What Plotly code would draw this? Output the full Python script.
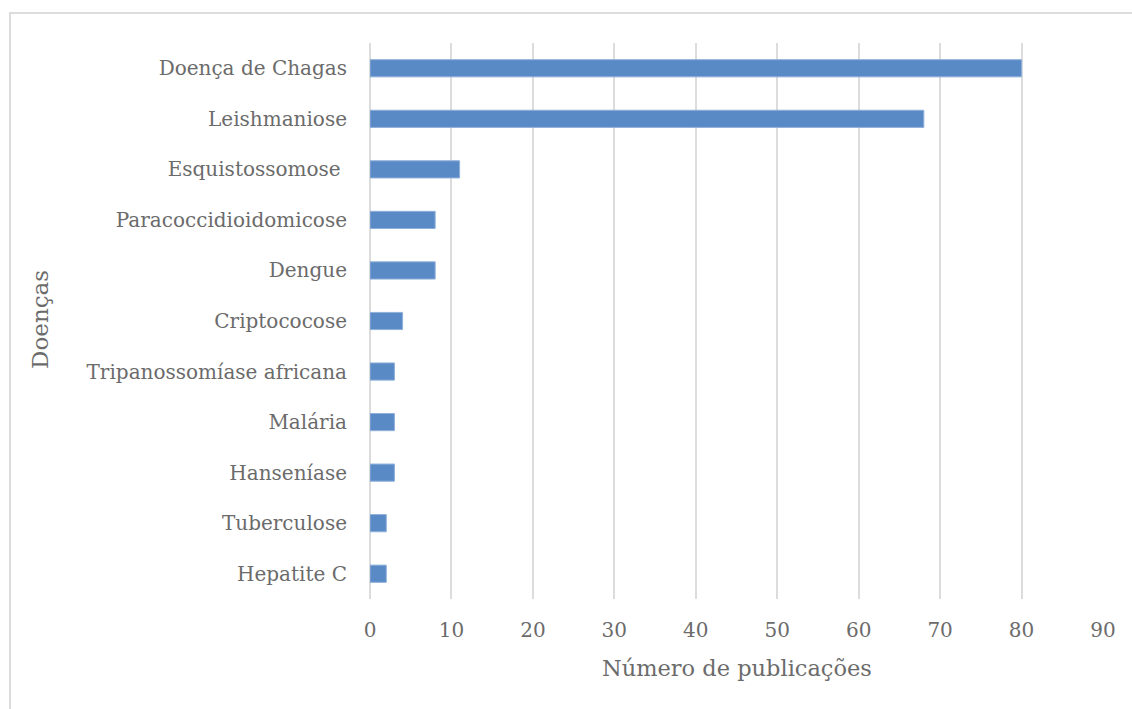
import plotly.graph_objects as go

# Diseases and number of publications found for each one
doencas = [
    "Doença de Chagas",
    "Leishmaniose",
    "Esquistossomose ",
    "Paracoccidioidomicose",
    "Dengue",
    "Criptococose",
    "Tripanossomíase africana",
    "Malária",
    "Hanseníase",
    "Tuberculose",
    "Hepatite C",
]
publicacoes = [80, 68, 11, 8, 8, 4, 3, 3, 3, 2, 2]
x_ticks = [0, 10, 20, 30, 40, 50, 60, 70, 80, 90]

W, H = 1132, 709
L, R, T, B = 370, 29, 43, 110
plot_w = W - L - R
plot_h = H - T - B

FONT = "DejaVu Serif"
TXT = "#6b6b6b"
GRID = "#dcdcdc"

fig = go.Figure(
    go.Bar(
        x=publicacoes,
        y=doencas,
        orientation="h",
        width=0.34,
        marker=dict(color="#5a8ac6", line=dict(color="#8fb0da", width=1)),
        hoverinfo="x+y",
    )
)

fig.update_layout(
    width=W,
    height=H,
    margin=dict(l=L, r=R, t=T, b=B),
    paper_bgcolor="white",
    plot_bgcolor="white",
    showlegend=False,
    font=dict(family=FONT, color=TXT, size=20),
    xaxis=dict(
        range=[0, 90],
        tickvals=x_ticks,
        ticktext=[str(v) for v in x_ticks],
        showgrid=True,
        gridcolor=GRID,
        gridwidth=2,
        zeroline=True,
        zerolinecolor=GRID,
        zerolinewidth=2,
        showline=False,
        ticks="",
        ticklabelstandoff=17,
        tickfont=dict(family=FONT, color=TXT, size=20),
        fixedrange=True,
    ),
    yaxis=dict(
        categoryorder="array",
        categoryarray=doencas[::-1],
        autorange=False,
        range=[-0.5, len(doencas) - 0.5],
        showgrid=False,
        zeroline=False,
        showline=False,
        ticks="",
        ticklabelstandoff=22,
        tickfont=dict(family=FONT, color=TXT, size=20),
        fixedrange=True,
    ),
)

# Axis titles
fig.add_annotation(
    text="Número de publicações",
    xref="paper", yref="paper",
    x=0.5, y=-(668 - (T + plot_h)) / plot_h,
    showarrow=False,
    font=dict(family=FONT, color=TXT, size=22.5),
    xanchor="center", yanchor="middle",
)
fig.add_annotation(
    text="Doenças",
    xref="paper", yref="paper",
    x=(40 - L) / plot_w, y=1 - (320 - T) / plot_h,
    showarrow=False,
    textangle=-90,
    font=dict(family=FONT, color=TXT, size=23),
    xanchor="center", yanchor="middle",
)

# Chart frame
fig.add_shape(
    type="rect",
    xref="paper", yref="paper",
    x0=(10 - L) / plot_w, x1=1.2,
    y0=-0.4, y1=1 + (T - 13) / plot_h,
    line=dict(color=GRID, width=2),
    fillcolor="rgba(0,0,0,0)",
    layer="below",
)

fig.write_html("out.html")
